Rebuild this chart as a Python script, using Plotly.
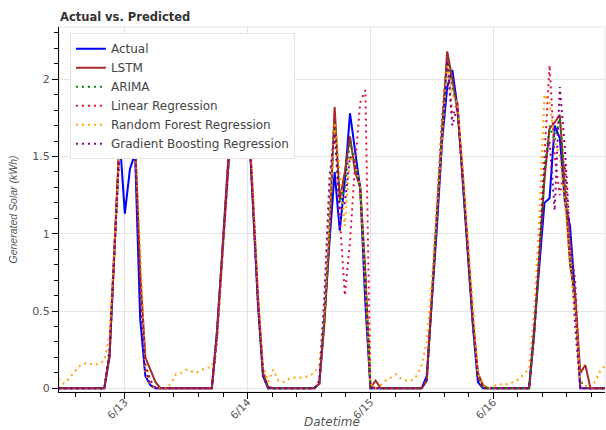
import pandas as pd
import plotly.graph_objects as go

# hourly timestamps
times = pd.date_range("2023-06-12 11:00", periods=108, freq="h")

actual = [
    0, 0, 0, 0, 0, 0, 0, 0, 0, 0,
    0.2, 0.95, 1.62, 1.13, 1.42, 1.52, 0.45, 0.08, 0.02, 0,
    0, 0, 0, 0, 0, 0, 0, 0, 0, 0,
    0, 0.37, 0.86, 1.34, 1.8, 2.08, 2.15, 1.85, 1.22, 0.55,
    0.08, 0, 0, 0, 0, 0, 0, 0, 0, 0,
    0, 0.03, 0.45, 0.95, 1.40, 1.02, 1.35, 1.78, 1.55, 1.29,
    0.55, 0, 0, 0, 0, 0, 0, 0, 0, 0,
    0, 0, 0.08, 0.55, 1.05, 1.6, 1.95, 2.06, 1.82, 1.35,
    0.88, 0.41, 0.04, 0, 0, 0, 0, 0, 0, 0,
    0, 0, 0, 0.38, 0.78, 1.2, 1.23, 1.7, 1.62, 1.2,
    1.05, 0.6, 0, 0, 0, 0, 0, 0]

lstm = [
    0, 0, 0, 0, 0, 0, 0, 0, 0, 0,
    0.22, 0.95, 1.65, 1.62, 1.55, 1.62, 0.75, 0.2, 0.12, 0.04,
    0, 0, 0, 0, 0, 0, 0, 0, 0, 0,
    0, 0.35, 0.88, 1.38, 1.85, 2.2, 2.22, 1.87, 1.25, 0.6,
    0.1, 0.01, 0, 0, 0, 0, 0, 0, 0, 0,
    0, 0.03, 0.42, 1.0, 1.82, 1.22, 1.4, 1.63, 1.4, 1.3,
    0.75, 0, 0.05, 0, 0, 0, 0, 0, 0, 0,
    0, 0, 0.05, 0.6, 1.15, 1.7, 2.18, 2.0, 1.8, 1.4,
    0.92, 0.45, 0.1, 0.02, 0, 0, 0, 0, 0, 0,
    0, 0, 0, 0.35, 0.85, 1.35, 1.68, 1.72, 1.77, 1.3,
    0.8, 0.6, 0.1, 0.15, 0, 0, 0, 0]

arima = [
    0, 0, 0, 0, 0, 0, 0, 0, 0, 0,
    0.2, 0.92, 1.6, 1.55, 1.5, 1.58, 0.7, 0.15, 0.05, 0,
    0, 0, 0, 0, 0, 0, 0, 0, 0, 0,
    0, 0.33, 0.86, 1.36, 1.83, 2.18, 2.2, 1.86, 1.24, 0.58,
    0.09, 0, 0, 0, 0, 0, 0, 0, 0, 0,
    0, 0.03, 0.45, 1.05, 1.75, 1.2, 1.3, 1.6, 1.45, 1.3,
    0.72, 0, 0, 0, 0, 0, 0, 0, 0, 0,
    0, 0, 0.05, 0.58, 1.12, 1.7, 2.15, 1.95, 1.82, 1.4,
    0.9, 0.43, 0.08, 0, 0, 0, 0, 0, 0, 0,
    0, 0, 0, 0.36, 0.85, 1.4, 1.7, 1.6, 1.75, 1.35,
    0.85, 0.55, 0.05, 0, 0, 0, 0, 0]

linreg = [
    0, 0, 0, 0, 0, 0, 0, 0, 0, 0,
    0.2, 0.9, 1.6, 1.55, 1.5, 1.58, 0.78, 0.15, 0.05, 0,
    0, 0, 0, 0, 0, 0, 0, 0, 0, 0,
    0, 0.3, 0.85, 1.35, 1.85, 2.2, 2.31, 1.9, 1.25, 0.6,
    0.12, 0, 0, 0, 0, 0, 0, 0, 0, 0,
    0, 0.03, 0.5, 1.2, 1.78, 1.1, 0.6, 0.95, 1.45, 1.85,
    1.93, 0.02, 0, 0, 0, 0, 0, 0, 0, 0,
    0, 0, 0.05, 0.6, 1.15, 1.75, 2.15, 1.75, 1.85, 1.4,
    0.92, 0.45, 0.08, 0, 0, 0, 0, 0, 0, 0,
    0, 0, 0, 0.35, 0.9, 1.5, 2.09, 1.5, 1.25, 1.45,
    0.95, 0.7, 0, 0, 0, 0, 0, 0]

rf = [
    0.06, 0.03, 0.06, 0.1, 0.14, 0.16, 0.16, 0.15, 0.16, 0.18,
    0.35, 0.95, 1.58, 1.6, 1.5, 1.55, 0.9, 0.1, 0.02, 0,
    0, 0, 0.03, 0.09, 0.1, 0.12, 0.11, 0.1, 0.12, 0.13,
    0.14, 0.3, 0.8, 1.3, 1.75, 2.05, 2.1, 1.95, 1.3, 0.65,
    0.15, 0.04, 0.12, 0.05, 0.04, 0.06, 0.07, 0.07, 0.07, 0.08,
    0.1, 0.15, 0.5, 1.1, 1.72, 1.4, 1.05, 1.5, 1.45, 1.3,
    0.7, 0.03, 0, 0.02, 0.05, 0.07, 0.09, 0.06, 0.05, 0.05,
    0.08, 0.15, 0.3, 0.7, 1.15, 1.65, 2.1, 1.9, 1.85, 1.45,
    1.0, 0.55, 0.1, 0.02, 0, 0.01, 0.03, 0.02, 0.03, 0.04,
    0.06, 0.09, 0.13, 0.5, 1.1, 1.9, 1.85, 1.6, 1.5, 1.2,
    0.8, 0.5, 0.05, 0.02, 0, 0.05, 0.12, 0.15]

gb = [
    0, 0, 0, 0, 0, 0, 0, 0, 0, 0,
    0.25, 0.95, 1.6, 1.58, 1.5, 1.58, 0.6, 0.12, 0.02, 0,
    0, 0, 0, 0, 0, 0, 0, 0, 0, 0,
    0, 0.35, 0.88, 1.35, 1.82, 2.15, 2.15, 1.85, 1.22, 0.55,
    0.08, 0, 0, 0, 0, 0, 0, 0, 0, 0,
    0, 0.05, 0.6, 1.37, 1.65, 1.15, 1.2, 1.5, 1.45, 1.3,
    0.7, 0, 0, 0, 0, 0, 0, 0, 0, 0,
    0, 0, 0.05, 0.58, 1.1, 1.68, 2.12, 1.7, 1.82, 1.38,
    0.9, 0.42, 0.05, 0, 0, 0, 0, 0, 0, 0,
    0, 0, 0, 0.38, 0.85, 1.45, 1.6, 1.15, 1.95, 1.55,
    0.95, 0.4, 0, 0, 0, 0, 0, 0]

SANS = "Liberation Sans, Arial, Helvetica, sans-serif"
WIDE = "DejaVu Sans, Verdana, sans-serif"
DOT = "2px,4px"

series = [
    ("Actual", actual, "blue", "solid"),
    ("LSTM", lstm, "brown", "solid"),
    ("ARIMA", arima, "green", DOT),
    ("Linear Regression", linreg, "crimson", DOT),
    ("Random Forest Regression", rf, "orange", DOT),
    ("Gradient Boosting Regression", gb, "purple", DOT),
]

fig = go.Figure()
for name, vals, color, dash in series:
    fig.add_trace(go.Scatter(x=times, y=vals, mode="lines", name=name,
                             line=dict(color=color, width=2, dash=dash)))

fig.update_layout(
    width=606, height=430,
    margin=dict(l=59, r=1, t=27, b=38),
    plot_bgcolor="white", paper_bgcolor="white",
    font=dict(family=WIDE, color="#444"),
    title=dict(text="<b>Actual vs. Predicted</b>", font=dict(family=WIDE, size=11.5, color="#333"),
               xref="container", x=60 / 606, xanchor="left",
               yref="container", y=1 - 17 / 430, yanchor="middle"),
    legend=dict(x=0.02, y=0.983, xanchor="left", yanchor="top",
                bgcolor="white", bordercolor="#e5e5e5", borderwidth=1,
                font=dict(family=WIDE, size=12, color="#444"), itemwidth=30),
    showlegend=True,
)

fig.update_xaxes(
    type="date",
    range=["2023-06-12 11:08", "2023-06-16 21:50"],
    showline=True, linecolor="black", linewidth=1,
    ticks="outside", ticklen=6, tickcolor="black",
    tickformat="%-m/%d", dtick=86400000, tick0="2023-06-13",
    tickangle=-45, tickfont=dict(family=WIDE, size=10.5, color="#555"),
    ticklabelstandoff=-7,
    showgrid=True, gridcolor="#e5e5e5", zeroline=False,
    minor=dict(ticks="outside", ticklen=4, tickcolor="black",
               dtick=17280000, tick0="2023-06-13", showgrid=False),
    automargin=False,
)
fig.update_yaxes(
    range=[-0.024, 2.338],
    showline=True, linecolor="black", linewidth=1,
    ticks="outside", ticklen=6, tickcolor="black",
    tickvals=[0, 0.5, 1, 1.5, 2], ticktext=["0", "0.5", "1", "1.5", "2"],
    tickfont=dict(family=WIDE, size=11, color="#555"),
    showgrid=True, gridcolor="#e5e5e5", zeroline=False,
    minor=dict(ticks="outside", ticklen=4, tickcolor="black", dtick=0.1, tick0=0, showgrid=False),
    title=dict(text="Generated Solar (kWh)", font=dict(family=SANS, size=10.5, style="italic", color="#555"), standoff=12),
    automargin=False,
)

# x-axis title, kept low near the page edge as in the original
fig.add_annotation(text="Datetime", xref="paper", yref="paper", x=0.5, y=-0.083,
                   xanchor="center", yanchor="middle", showarrow=False,
                   font=dict(family=WIDE, size=12, style="italic", color="#555"))

fig.add_shape(type="rect", xref="paper", yref="paper", x0=0, y0=0, x1=1, y1=1,
              line=dict(color="#e5e5e5", width=1), layer="below")

fig.write_html("out.html")
